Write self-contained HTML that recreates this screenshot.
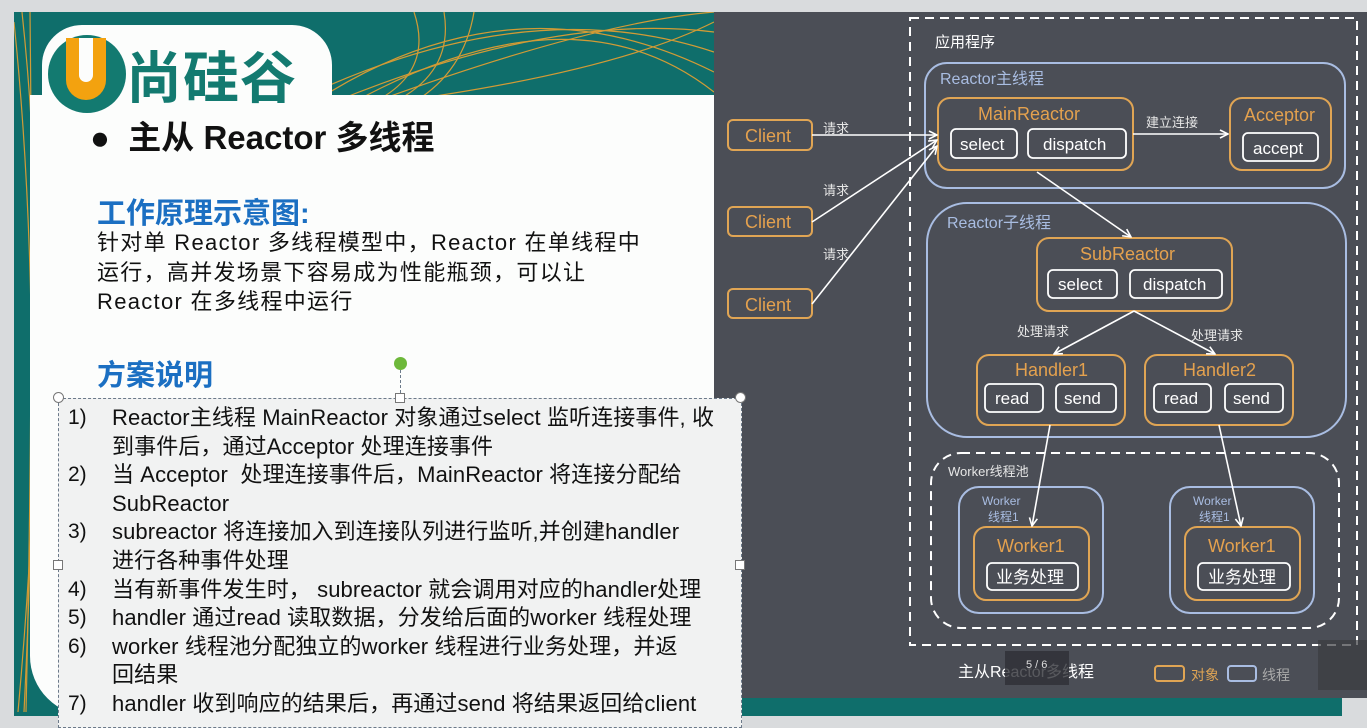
<!DOCTYPE html>
<html><head><meta charset="utf-8"><style>
*{margin:0;padding:0;box-sizing:border-box}
body{width:1367px;height:716px;overflow:hidden;background:#d9dbdd;position:relative;font-family:"Liberation Sans","Noto Sans CJK SC",sans-serif}
.a{position:absolute;white-space:nowrap}
</style></head><body>
<div class="a" style="left:14px;top:12px;width:700px;height:704px;background:#0f6e6b"></div>
<svg class="a" style="left:14px;top:12px" width="700" height="704">
<g stroke="#e8a030" stroke-width="1.2" fill="none" opacity="0.9">
<path d="M0 10 Q30 300 10 700"/><path d="M8 0 Q40 300 4 700"/><path d="M16 0 Q20 350 12 700"/>
<path d="M300 90 Q500 -40 700 60"/><path d="M300 80 Q520 -20 700 40"/><path d="M320 90 Q540 0 700 20"/>
<path d="M340 90 Q560 -30 700 80"/><path d="M360 90 Q580 10 700 0"/><path d="M380 90 Q600 60 700 10"/>
<path d="M400 0 Q420 60 360 90"/><path d="M430 0 Q440 60 380 90"/><path d="M460 0 Q450 60 400 90"/>
</g></svg>
<div class="a" style="left:30px;top:95px;width:684px;height:621px;background:#fcfdfc;border-bottom-left-radius:60px"></div>
<div class="a" style="left:42px;top:25px;width:290px;height:80px;background:#fcfdfc;border-top-left-radius:40px;border-top-right-radius:40px"></div>
<div class="a" style="left:48px;top:35px;width:78px;height:78px;border-radius:50%;background:#137a70"></div>
<div class="a" style="left:66px;top:38px;width:40px;height:62px;border-radius:0 0 20px 20px;background:#f3a20f"></div>
<div class="a" style="left:79px;top:38px;width:14px;height:44px;border-radius:0 0 7px 7px;background:#fcfdfc"></div>
<div class="a" style="left:126px;top:34px;font-size:56px;font-weight:bold;color:#137a70;letter-spacing:1px">尚硅谷</div>
<div class="a" style="left:90px;top:111px;font-size:33px;font-weight:bold;color:#111">●&nbsp; 主从 Reactor 多线程</div>
<div class="a" style="left:97px;top:190px;font-size:29px;font-weight:bold;color:#1b6fc2">工作原理示意图:</div>
<div class="a" style="left:97px;top:228px;font-size:22px;line-height:29.5px;color:#111;letter-spacing:1.3px">针对单 Reactor 多线程模型中，Reactor 在单线程中<br>运行，高并发场景下容易成为性能瓶颈，可以让<br>Reactor 在多线程中运行</div>
<div class="a" style="left:97px;top:352px;font-size:29px;font-weight:bold;color:#1b6fc2">方案说明</div>
<div class="a" style="left:714px;top:12px;width:653px;height:686px;background:#4b4e56"></div>
<div class="a" style="left:742px;top:698px;width:600px;height:18px;background:#0f6e6b"></div>
<svg class="a" style="left:0;top:0" width="1367" height="716" font-family="Liberation Sans,Noto Sans CJK SC,sans-serif">
<defs><marker id="m" markerWidth="10" markerHeight="10" refX="9" refY="5" orient="auto" markerUnits="userSpaceOnUse"><path d="M1 1 L9 5 L1 9" fill="none" stroke="#fff" stroke-width="1.6"/></marker></defs>
<g fill="none" stroke-width="2">
<rect x="910" y="18" width="447" height="627" stroke="#fff" stroke-dasharray="9 6"/>
<rect x="925" y="63" width="420" height="125" rx="22" stroke="#a9bde2"/>
<rect x="927" y="203" width="419" height="234" rx="40" stroke="#a9bde2"/>
<rect x="931" y="453" width="408" height="175" rx="30" stroke="#fff" stroke-dasharray="9 6"/>
<rect x="959" y="487" width="144" height="126" rx="20" stroke="#a9bde2"/>
<rect x="1170" y="487" width="144" height="126" rx="20" stroke="#a9bde2"/>
<g stroke="#e0a554">
<rect x="728" y="120" width="84" height="30" rx="5"/><rect x="728" y="207" width="84" height="29" rx="5"/><rect x="728" y="289" width="84" height="29" rx="5"/>
<rect x="938" y="98" width="195" height="72" rx="12"/><rect x="1230" y="98" width="101" height="72" rx="12"/>
<rect x="1037" y="238" width="195" height="73" rx="12"/>
<rect x="977" y="355" width="148" height="70" rx="12"/><rect x="1145" y="355" width="148" height="70" rx="12"/>
<rect x="974" y="527" width="115" height="73" rx="12"/><rect x="1185" y="527" width="115" height="73" rx="12"/>
</g>
<g stroke="#fff" stroke-width="1.8">
<rect x="951" y="129" width="66" height="29" rx="5"/><rect x="1028" y="129" width="98" height="29" rx="5"/>
<rect x="1243" y="133" width="75" height="28" rx="5"/>
<rect x="1048" y="270" width="69" height="28" rx="5"/><rect x="1130" y="270" width="92" height="28" rx="5"/>
<rect x="985" y="384" width="58" height="28" rx="5"/><rect x="1056" y="384" width="60" height="28" rx="5"/>
<rect x="1154" y="384" width="57" height="28" rx="5"/><rect x="1225" y="384" width="58" height="28" rx="5"/>
<rect x="987" y="563" width="91" height="27" rx="5"/><rect x="1198" y="563" width="92" height="27" rx="5"/>
</g>
<g stroke="#fff" stroke-width="1.6" marker-end="url(#m)">
<line x1="812" y1="135" x2="937" y2="135"/><line x1="812" y1="222" x2="937" y2="140"/><line x1="812" y1="304" x2="937" y2="146"/>
<line x1="1133" y1="134" x2="1228" y2="134"/>
<line x1="1037" y1="172" x2="1131" y2="237"/>
<line x1="1134" y1="311" x2="1054" y2="354"/><line x1="1134" y1="311" x2="1215" y2="354"/>
<line x1="1050" y1="425" x2="1032" y2="526"/><line x1="1219" y1="425" x2="1241" y2="526"/>
</g>
</g>
<g font-size="18" fill="#e4a14e">
<text x="745" y="142">Client</text><text x="745" y="228">Client</text><text x="745" y="311">Client</text>
<text x="978" y="120">MainReactor</text><text x="1244" y="121">Acceptor</text>
<text x="1080" y="260">SubReactor</text>
<text x="1015" y="376">Handler1</text><text x="1183" y="376">Handler2</text>
<text x="997" y="552">Worker1</text><text x="1208" y="552">Worker1</text>
</g>
<g font-size="17" fill="#fff">
<text x="960" y="150">select</text><text x="1043" y="150">dispatch</text><text x="1253" y="154">accept</text>
<text x="1058" y="290">select</text><text x="1143" y="290">dispatch</text>
<text x="995" y="404">read</text><text x="1064" y="404">send</text><text x="1164" y="404">read</text><text x="1233" y="404">send</text>
<text x="996" y="583">业务处理</text><text x="1208" y="583">业务处理</text>
</g>
<g font-size="13" fill="#e6e6e6">
<text x="823" y="133">请求</text><text x="823" y="195">请求</text><text x="823" y="259">请求</text>
<text x="1146" y="127">建立连接</text><text x="1017" y="336">处理请求</text><text x="1191" y="340">处理请求</text>
<text x="948" y="476">Worker线程池</text>
</g>
<text x="935" y="47" font-size="15" fill="#fff">应用程序</text>
<text x="940" y="84" font-size="16" fill="#a9bde2">Reactor主线程</text>
<text x="947" y="228" font-size="16" fill="#a9bde2">Reactor子线程</text>
<g font-size="12" fill="#a9bde2"><text x="982" y="505">Worker</text><text x="988" y="521">线程1</text><text x="1193" y="505">Worker</text><text x="1199" y="521">线程1</text></g>
<text x="958" y="677" font-size="16" fill="#fff">主从Reactor多线程</text>
<rect x="1005" y="651" width="64" height="34" fill="#2e3036" opacity="0.8"/>
<text x="1026" y="668" font-size="11" fill="#ddd">5 / 6</text>
<rect x="1155" y="666" width="29" height="15" rx="3" fill="none" stroke="#e0a554" stroke-width="2"/>
<text x="1191" y="680" font-size="14" fill="#e0a554">对象</text>
<rect x="1228" y="666" width="28" height="15" rx="3" fill="none" stroke="#a9bde2" stroke-width="2"/>
<text x="1262" y="680" font-size="14" fill="#aaa">线程</text>
<rect x="1318" y="640" width="49" height="50" fill="#3a3c40" opacity="0.7"/>
</svg>
<div class="a" style="left:58px;top:398px;width:684px;height:330px;background:#f1f2f2;border:1.5px dashed #6c7a8a"></div>
<div class="a" style="left:394px;top:357px;width:13px;height:13px;border-radius:50%;background:#6db83a"></div>
<div class="a" style="left:400px;top:370px;height:28px;border-left:1.5px dashed #6c7a8a"></div>
<div class="a" style="left:53px;top:392px;width:11px;height:11px;border-radius:50%;background:#fff;border:1px solid #777"></div>
<div class="a" style="left:735px;top:392px;width:11px;height:11px;border-radius:50%;background:#fff;border:1px solid #777"></div>
<div class="a" style="left:395px;top:393px;width:10px;height:10px;background:#fff;border:1px solid #777"></div>
<div class="a" style="left:53px;top:560px;width:10px;height:10px;background:#fff;border:1px solid #777"></div>
<div class="a" style="left:735px;top:560px;width:10px;height:10px;background:#fff;border:1px solid #777"></div>
<div class="a" style="left:68px;top:404px;font-size:21px;line-height:28.6px;color:#111">1)<br><br>2)<br><br>3)<br><br>4)<br>5)<br>6)<br><br>7)</div>
<div class="a" style="left:112px;top:404px;font-size:22px;line-height:28.6px;color:#111;letter-spacing:0.1px">Reactor主线程 MainReactor 对象通过select 监听连接事件, 收<br>到事件后，通过Acceptor 处理连接事件<br>当 Acceptor &nbsp;处理连接事件后，MainReactor 将连接分配给<br>SubReactor<br>subreactor 将连接加入到连接队列进行监听,并创建handler<br>进行各种事件处理<br>当有新事件发生时， subreactor 就会调用对应的handler处理<br>handler 通过read 读取数据，分发给后面的worker 线程处理<br>worker 线程池分配独立的worker 线程进行业务处理，并返<br>回结果<br>handler 收到响应的结果后，再通过send 将结果返回给client</div>
</body></html>
